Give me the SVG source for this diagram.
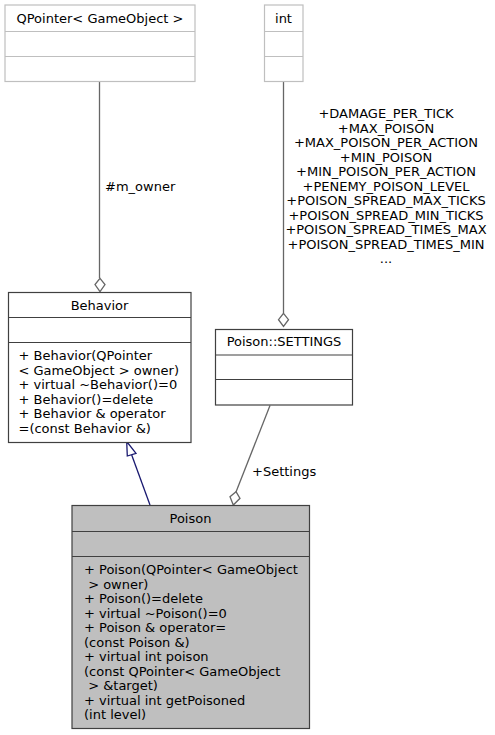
<svg xmlns="http://www.w3.org/2000/svg" width="495" height="735" viewBox="0 0 495 735">
<style>
text{font-family:"DejaVu Sans","Liberation Sans",sans-serif;font-size:13px;fill:#000}
.c{text-anchor:middle}
.box{fill:#fff;stroke:#404040;stroke-width:1.2}
.ext{fill:#fff;stroke:#bfbfbf;stroke-width:1.2}
.cur{fill:#bfbfbf;stroke:#404040;stroke-width:1.2}
.sepd{stroke:#404040;stroke-width:1.2}
.sepl{stroke:#bfbfbf;stroke-width:1.2}
.edge{fill:none;stroke:#666;stroke-width:1.3}
.dia{fill:#fff;stroke:#666;stroke-width:1.3}
.inh{fill:none;stroke:#191970;stroke-width:1.3}
.tri{fill:#fff;stroke:#191970;stroke-width:1.3}
</style>
<g id="connectors">
<path class="edge" d="M99.5,82 V278"/>
<polygon class="dia" points="100,278.3 105,284.5 100,291.7 95,284.5"/>
<text x="105" y="191">#m_owner</text>
<path class="edge" d="M283.5,82 V313"/>
<polygon class="dia" points="283.5,313.3 288.5,319.7 283.5,326.5 278.5,319.7"/>
<g class="c">
<text x="386" y="118">+DAMAGE_PER_TICK</text>
<text x="386" y="132.5">+MAX_POISON</text>
<text x="386" y="147">+MAX_POISON_PER_ACTION</text>
<text x="386" y="161.5">+MIN_POISON</text>
<text x="386" y="176">+MIN_POISON_PER_ACTION</text>
<text x="386" y="190.5">+PENEMY_POISON_LEVEL</text>
<text x="386" y="205">+POISON_SPREAD_MAX_TICKS</text>
<text x="386" y="219.5">+POISON_SPREAD_MIN_TICKS</text>
<text x="386" y="234">+POISON_SPREAD_TIMES_MAX</text>
<text x="386" y="248.5">+POISON_SPREAD_TIMES_MIN</text>
<text x="386" y="263">...</text>
</g>
<path class="inh" d="M150,505 L131.7,455"/>
<polygon class="tri" points="126.7,441.5 127.3,456 136,453.3"/>
<path class="edge" d="M270,405.5 L236,492"/>
<polygon class="dia" points="236,491.7 240,498.3 233.3,505 230,496.7"/>
<text x="252" y="476">+Settings</text>
</g>
<g id="qpointer">
<rect class="ext" x="5" y="5" width="190" height="76.5"/>
<line class="sepl" x1="5" y1="31.5" x2="195" y2="31.5"/>
<line class="sepl" x1="5" y1="56.5" x2="195" y2="56.5"/>
<text class="c" x="100" y="23">QPointer&lt; GameObject &gt;</text>
</g>
<g id="int">
<rect class="ext" x="264.5" y="5" width="38.5" height="76.5"/>
<line class="sepl" x1="264.5" y1="31.5" x2="303" y2="31.5"/>
<line class="sepl" x1="264.5" y1="56.5" x2="303" y2="56.5"/>
<text class="c" x="283.5" y="23">int</text>
</g>
<g id="behavior">
<rect class="box" x="8.5" y="292.5" width="182.5" height="150"/>
<line class="sepd" x1="8.5" y1="317.5" x2="191" y2="317.5"/>
<line class="sepd" x1="8.5" y1="342.5" x2="191" y2="342.5"/>
<text class="c" x="99.5" y="310">Behavior</text>
<text x="18.5" y="360">+ Behavior(QPointer</text>
<text x="18.5" y="374.5">&lt; GameObject &gt; owner)</text>
<text x="18.5" y="389">+ virtual ~Behavior()=0</text>
<text x="18.5" y="403.5">+ Behavior()=delete</text>
<text x="18.5" y="418">+ Behavior &amp; operator</text>
<text x="18.5" y="432.5">=(const Behavior &amp;)</text>
</g>
<g id="settings">
<rect class="box" x="215.5" y="329.5" width="137" height="75.5"/>
<line class="sepd" x1="215.5" y1="355" x2="352.5" y2="355"/>
<line class="sepd" x1="215.5" y1="379.5" x2="352.5" y2="379.5"/>
<text class="c" x="284" y="346">Poison::SETTINGS</text>
</g>
<g id="poison">
<rect class="cur" x="72" y="505.5" width="237.5" height="223"/>
<line class="sepd" x1="72" y1="531.5" x2="309.5" y2="531.5"/>
<line class="sepd" x1="72" y1="556.5" x2="309.5" y2="556.5"/>
<text class="c" x="190.5" y="523">Poison</text>
<text x="84" y="574">+ Poison(QPointer&lt; GameObject</text>
<text x="84" y="588.5" xml:space="preserve"> &gt; owner)</text>
<text x="84" y="603">+ Poison()=delete</text>
<text x="84" y="617.5">+ virtual ~Poison()=0</text>
<text x="84" y="632">+ Poison &amp; operator=</text>
<text x="84" y="646.5">(const Poison &amp;)</text>
<text x="84" y="661">+ virtual int poison</text>
<text x="84" y="675.5">(const QPointer&lt; GameObject</text>
<text x="84" y="690" xml:space="preserve"> &gt; &amp;target)</text>
<text x="84" y="704.5">+ virtual int getPoisoned</text>
<text x="84" y="719">(int level)</text>
</g>
</svg>
